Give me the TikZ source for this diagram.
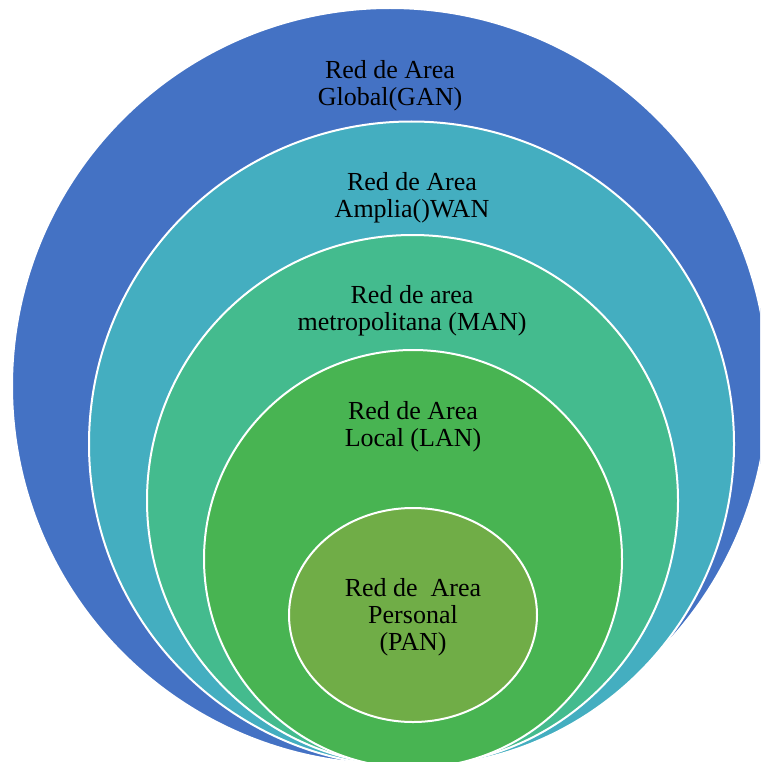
\documentclass[tikz,border=0pt]{standalone}
\usepackage{fontspec}
\setmainfont{Liberation Serif}
\usetikzlibrary{shapes.geometric}

\definecolor{ganblue}{HTML}{4472C4}
\definecolor{wancyan}{HTML}{44AEC0}
\definecolor{manteal}{HTML}{44BB8E}
\definecolor{langreen}{HTML}{48B452}
\definecolor{panolive}{HTML}{70AD47}

\tikzset{
  ring/.style={circle, draw=white, line width=2pt, inner sep=0pt, outer sep=0pt, minimum size=#1},
  label text/.style={anchor=north, align=center, inner sep=0pt, text=black,
    font=\fontsize{26}{27}\selectfont}
}

\begin{document}
\begin{tikzpicture}[x=1pt, y=-1pt]
  \useasboundingbox (0,0) rectangle (760,762);
  \clip (0,0) rectangle (760,762);

  % nested network scopes, largest first
  \node[ring=756pt, fill=ganblue]  (gan) at (390,386)   {};
  \node[ring=645pt, fill=wancyan]  (wan) at (411.5,444) {};
  \node[ring=531pt, fill=manteal]  (man) at (412.5,500.5) {};
  \node[ring=418pt, fill=langreen] (lan) at (413,559)   {};
  \node[ellipse, draw=white, line width=2pt, inner sep=0pt, outer sep=0pt,
        minimum width=248pt, minimum height=214pt, fill=panolive] (pan) at (413,615) {};

  % labels
  \node[label text] (gantext) at (390,60)  {Red de Area\\Global(GAN)};
  \node[label text] (wantext) at (412,172) {Red de Area\\Amplia()WAN};
  \node[label text] (mantext) at (412,285) {Red de area\\metropolitana (MAN)};
  \node[label text] (lantext) at (413,401) {Red de Area\\Local (LAN)};
  \node[label text] (pantext) at (413,578) {Red de\ \ Area\\Personal\\(PAN)};
\end{tikzpicture}
\end{document}
